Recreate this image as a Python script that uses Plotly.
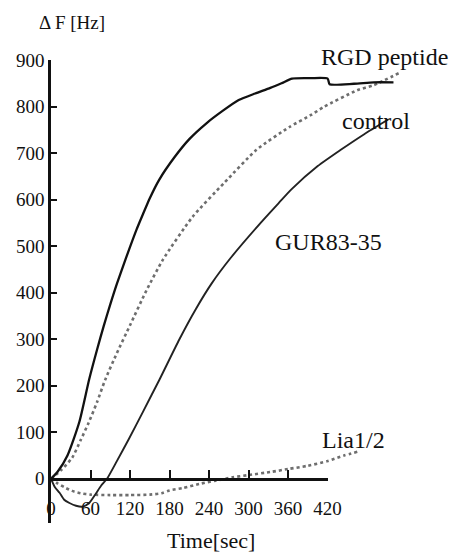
import plotly.graph_objects as go

# Frequency shift (Hz) versus time (s) for each sample
rgd_t = [0, 10, 25, 43, 58, 70, 80, 90, 100, 113, 130, 140, 150, 164, 188, 210, 236, 260,
         285, 310, 333, 350, 366, 395, 420, 423, 460, 490, 520]
rgd_f = [0, 15, 50, 122, 214, 278, 328, 375, 419, 471, 536, 570, 603, 642, 692, 730, 764,
         790, 814, 828, 840, 850, 860, 861, 860, 848, 849, 852, 852]

control_t = [0, 15, 32, 45, 57, 70, 82, 100, 120, 145, 170, 215, 263, 312, 362, 395,
             414, 465, 490, 530]
control_f = [0, 18, 45, 83, 120, 165, 212, 270, 330, 405, 471, 563, 636, 707, 756, 782,
             799, 835, 846, 873]

gur_t = [0, 6, 13, 20, 28, 38, 48, 58, 68, 76, 85, 100, 118, 140, 165, 195, 220, 244, 273,
         317, 346, 365, 405, 440, 475, 512]
gur_f = [0, -18, -30, -45, -52, -58, -60, -52, -32, -15, 0, 38, 85, 145, 214, 300, 365,
         420, 475, 548, 593, 622, 672, 707, 740, 772]

lia_t = [0, 10, 20, 32, 45, 60, 90, 120, 150, 168, 180, 200, 225, 250, 275, 300, 335,
         360, 390, 420, 445, 465]
lia_f = [0, -10, -18, -26, -31, -34, -35, -35, -34, -31, -25, -20, -11, -4, 3, 8, 15,
         21, 28, 38, 50, 58]

# Axis ticks
x_ticks = [0, 60, 120, 180, 240, 300, 360, 420]
y_ticks = [-95, 0, 100, 200, 300, 400, 500, 600, 700, 800, 900]
y_ticktext = ["", "0", "100", "200", "300", "400", "500", "600", "700", "800", "900"]

# Curve labels: (text, time, shift, vertical nudge in px)
labels = [("RGD peptide", 506, 900, 3), ("control", 494, 769, 0),
          ("GUR83-35", 422, 509, 0), ("Lia1/2", 460, 83, 0)]

X_MAX = 580
Y_MIN, Y_MAX = -95, 900
SERIF = "Liberation Serif"
INK = "#111111"
CLEAR = "rgba(0,0,0,0)"
SMOOTH = 0.6

fig = go.Figure()
fig.add_trace(go.Scatter(x=control_t, y=control_f, mode="lines", name="control",
                         line=dict(color="#6e6e6e", width=2.6, dash="dot",
                                   shape="spline", smoothing=SMOOTH)))
fig.add_trace(go.Scatter(x=lia_t, y=lia_f, mode="lines", name="Lia1/2",
                         line=dict(color="#6e6e6e", width=2.6, dash="dot",
                                   shape="spline", smoothing=SMOOTH)))
fig.add_trace(go.Scatter(x=gur_t, y=gur_f, mode="lines", name="GUR83-35",
                         line=dict(color="#222222", width=1.9,
                                   shape="spline", smoothing=SMOOTH)))
fig.add_trace(go.Scatter(x=rgd_t, y=rgd_f, mode="lines", name="RGD peptide",
                         line=dict(color=INK, width=2.3,
                                   shape="spline", smoothing=SMOOTH)))

# Invisible anchor so the time axis (x2) is laid out along the zero line
fig.add_trace(go.Scatter(x=x_ticks, y=[0] * len(x_ticks), xaxis="x2", yaxis="y",
                         mode="markers", marker=dict(opacity=0), hoverinfo="skip",
                         showlegend=False))

for text, t, f, dy in labels:
    fig.add_annotation(x=t, y=f, yshift=dy, text=text, showarrow=False,
                       font=dict(family=SERIF, size=24, color=INK))

fig.add_annotation(xref="paper", yref="paper", x=0.055, y=1.082, text="Δ F [Hz]",
                   xanchor="center", yanchor="middle", showarrow=False,
                   font=dict(family=SERIF, size=19, color=INK))
fig.add_annotation(xref="paper", yref="paper", x=0.42, y=-0.037, text="Time[sec]",
                   xanchor="center", yanchor="middle", showarrow=False,
                   font=dict(family=SERIF, size=22, color=INK))

fig.update_layout(
    width=459, height=560,
    margin=dict(l=51, r=13, t=60, b=37),
    paper_bgcolor="white", plot_bgcolor=CLEAR,
    showlegend=False,
    xaxis=dict(range=[0, X_MAX], visible=False, domain=[0, 1]),
    # time axis drawn along the zero line, ending at 420 s
    xaxis2=dict(range=[0, x_ticks[-1]], domain=[0, x_ticks[-1] / X_MAX],
                anchor="free", position=(0 - Y_MIN) / (Y_MAX - Y_MIN),
                showline=True, linecolor=INK, linewidth=2.8,
                ticks="inside", ticklen=8, tickwidth=2, tickcolor=INK,
                tickvals=x_ticks, ticklabelstandoff=12,
                tickfont=dict(family=SERIF, size=19, color=INK),
                showgrid=False, zeroline=False),
    yaxis=dict(range=[Y_MIN, Y_MAX], showline=True, linecolor=INK, linewidth=2.5,
               ticks="inside", ticklen=6, tickwidth=2, tickcolor=INK,
               tickvals=y_ticks, ticktext=y_ticktext,
               tickfont=dict(family=SERIF, size=19, color=INK),
               showgrid=False, zeroline=False),
)

fig.write_html("out.html")
